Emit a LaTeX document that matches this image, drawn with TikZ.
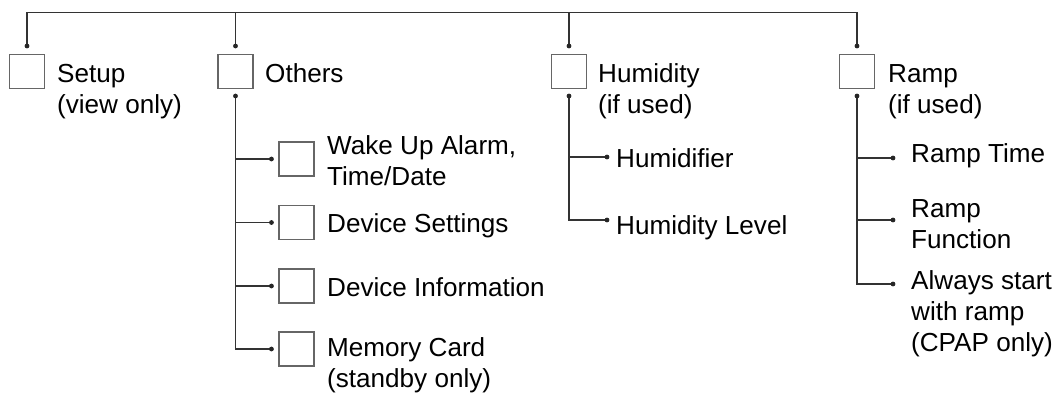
\documentclass[tikz,border=0pt]{standalone}
\usepackage{fontspec}
\setmainfont{Liberation Sans}
\begin{document}
\begin{tikzpicture}[x=1pt,y=-1pt,
  line/.style={draw=black!80, line width=1.3pt},
  box/.style={draw=black!60, line width=1.1pt, minimum width=35pt, minimum height=34pt, inner sep=0pt},
  lbl/.style={anchor=base west, align=left, inner sep=0pt, font=\fontsize{26.1}{31}\selectfont},
  dotc/.style={fill=black!85}]
\useasboundingbox (0,0) rectangle (1060,392);
% main boxes
\node[box] (sbox) at (27,71.5) {};
\node[box] (obox) at (235.5,71.5) {};
\node[box] (hbox) at (569,71.5) {};
\node[box] (rbox) at (857,71.5) {};
% others children boxes
\node[box] (o1) at (296.5,159) {};
\node[box] (o2) at (296.5,222.5) {};
\node[box] (o3) at (296.5,286) {};
\node[box] (o4) at (296.5,349) {};
% labels (base = baseline of the last line)
\node[lbl] (st) at (57,113) {Setup\\(view only)};
\node[lbl] (ot) at (265,82) {Others};
\node[lbl] (ht) at (598,113) {Humidity\\(if used)};
\node[lbl] (rt) at (888,113) {Ramp\\(if used)};
\node[lbl] (o1t) at (327,185) {Wake Up Alarm,\\Time/Date};
\node[lbl] (o2t) at (327,232) {Device Settings};
\node[lbl] (o3t) at (327,296) {Device Information};
\node[lbl] (o4t) at (327,387) {Memory Card\\(standby only)};
\node[lbl] (h1t) at (616,167) {Humidifier};
\node[lbl] (h2t) at (616,234) {Humidity Level};
\node[lbl] (r1t) at (911,162) {Ramp Time};
\node[lbl] (r2t) at (911,248) {Ramp\\Function};
\node[lbl] (r3t) at (911,351) {Always start\\with ramp\\(CPAP only)};
% dot coordinates
\coordinate (bus) at (0,12.3);
\coordinate (sd) at (sbox.north |- 0,46);
\coordinate (od) at (obox.north |- 0,46);
\coordinate (hd) at (hbox.north |- 0,46);
\coordinate (rd) at (rbox.north |- 0,46);
\coordinate (ob) at (obox.south |- 0,96);
\coordinate (hb) at (hbox.south |- 0,96);
\coordinate (rb) at (rbox.south |- 0,96);
\coordinate (o1d) at ([xshift=-7pt]o1.west);
\coordinate (o2d) at ([xshift=-7pt]o2.west);
\coordinate (o3d) at ([xshift=-7pt]o3.west);
\coordinate (o4d) at ([xshift=-7pt]o4.west);
\coordinate (h1d) at (607,157);
\coordinate (h2d) at (607,220);
\coordinate (r1d) at (893,158);
\coordinate (r2d) at (893,220);
\coordinate (r3d) at (893,284);
% bus
\draw[line] (sd) -- (sd |- bus) -- (rd |- bus) -- (rd);
\draw[line] (od) -- (od |- bus);
\draw[line] (hd) -- (hd |- bus);
% others branch
\draw[line] (ob) |- (o4d);
\draw[line] (ob |- o1d) -- (o1d);
\draw[line] (ob |- o2d) -- (o2d);
\draw[line] (ob |- o3d) -- (o3d);
% humidity branch
\draw[line] (hb) |- (h2d);
\draw[line] (hb |- h1d) -- (h1d);
% ramp branch
\draw[line] (rb) |- (r3d);
\draw[line] (rb |- r1d) -- (r1d);
\draw[line] (rb |- r2d) -- (r2d);
% dots
\foreach \p in {sd,od,hd,rd,ob,hb,rb,o1d,o2d,o3d,o4d,h1d,h2d,r1d,r2d,r3d}
  \fill[dotc] (\p) circle (2.4pt);
\end{tikzpicture}
\end{document}
